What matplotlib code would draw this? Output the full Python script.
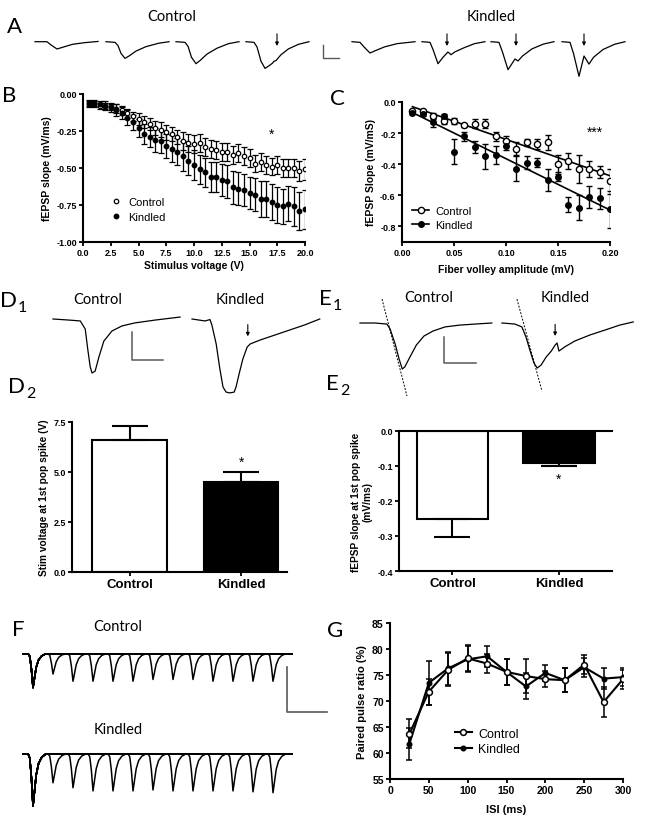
import numpy as np
import matplotlib
matplotlib.use('Agg')
import matplotlib.pyplot as plt
from matplotlib.lines import Line2D

plt.rcParams.update({'font.family': 'Liberation Sans', 'axes.unicode_minus': False,
                     'font.weight': 'bold'})

### data
# A: example traces (ms, mV), control and kindled, arrows mark pop spikes
a_ctrl_t = [[0, 2.4, 3.2, 4.4, 5.6, 7.5, 10, 12.6],
            [0, 1.8, 2.4, 3.0, 3.8, 4.6, 6.0, 8.0, 10.5, 12.6],
            [0, 1.8, 2.4, 3.1, 4.0, 4.8, 6.2, 8.2, 10.5, 12.6],
            [0, 1.6, 2.2, 3.0, 3.8, 4.6, 5.3, 5.6, 6.0, 7.0, 8.5, 10.5, 12.6]]
a_ctrl_v = [[0, 0, -0.25, -0.56, -0.42, -0.2, -0.07, 0.02],
            [0, -0.05, -0.3, -0.9, -1.28, -1.1, -0.72, -0.38, -0.12, 0],
            [0, -0.05, -0.35, -1.2, -1.69, -1.45, -0.95, -0.5, -0.15, 0],
            [0, -0.05, -0.4, -1.5, -2.05, -1.85, -1.65, -1.5, -1.45, -1.0, -0.55, -0.2, 0]]
a_kind_t = [[0, 1.6, 2.4, 3.6, 4.6, 6.5, 9, 12.6],
            [0, 1.6, 2.2, 3.2, 4.2, 5.2, 5.8, 6.6, 8.5, 10.5, 12.6],
            [0, 1.6, 2.3, 3.4, 4.8, 5.4, 6.3, 8.2, 10.5, 12.6],
            [0, 1.6, 2.3, 3.4, 4.4, 5.4, 6.3, 8.2, 10.5, 12.6]]
a_kind_v = [[0, -0.05, -0.4, -0.87, -0.7, -0.4, -0.15, 0],
            [0, -0.05, -0.6, -1.69, -1.2, -0.79, -1.0, -0.78, -0.45, -0.15, 0],
            [0, -0.05, -0.8, -2.15, -1.33, -1.48, -1.1, -0.55, -0.18, 0],
            [0, -0.05, -0.9, -2.66, -1.1, -1.72, -1.2, -0.6, -0.2, 0]]
a_ctrl_arrow = [None, None, None, 6.2]
a_kind_arrow = [None, 5.0, 5.0, 4.4]

# B: input/output
b_volt = np.arange(0.5, 20.01, 0.5)
b_ctrl = [-0.07, -0.07, -0.08, -0.08, -0.09, -0.10, -0.11, -0.13, -0.15, -0.17,
          -0.19, -0.20, -0.23, -0.24, -0.26, -0.27, -0.29, -0.32, -0.33, -0.34,
          -0.33, -0.36, -0.37, -0.38, -0.39, -0.39, -0.41, -0.40, -0.42, -0.43,
          -0.47, -0.46, -0.48, -0.49, -0.48, -0.50, -0.50, -0.50, -0.52, -0.51]
b_ctrl_err = [0.02, 0.02, 0.02, 0.02, 0.02, 0.03, 0.03, 0.03, 0.03, 0.04,
              0.04, 0.04, 0.05, 0.05, 0.05, 0.05, 0.05, 0.06, 0.06, 0.06,
              0.06, 0.06, 0.06, 0.06, 0.06, 0.06, 0.06, 0.06, 0.06, 0.06,
              0.06, 0.06, 0.06, 0.06, 0.06, 0.06, 0.06, 0.06, 0.07, 0.07]
b_kind = [-0.06, -0.06, -0.07, -0.08, -0.09, -0.11, -0.13, -0.16, -0.19, -0.23,
          -0.27, -0.29, -0.31, -0.32, -0.35, -0.37, -0.39, -0.42, -0.45, -0.48,
          -0.51, -0.53, -0.56, -0.56, -0.58, -0.59, -0.63, -0.64, -0.65, -0.67,
          -0.68, -0.71, -0.71, -0.73, -0.75, -0.76, -0.74, -0.76, -0.79, -0.78]
b_kind_err = [0.02, 0.02, 0.02, 0.03, 0.03, 0.04, 0.04, 0.05, 0.05, 0.06,
              0.07, 0.07, 0.08, 0.08, 0.08, 0.09, 0.09, 0.10, 0.10, 0.10,
              0.10, 0.10, 0.10, 0.10, 0.11, 0.11, 0.11, 0.11, 0.11, 0.11,
              0.11, 0.12, 0.12, 0.12, 0.12, 0.12, 0.12, 0.13, 0.13, 0.13]

# C: fEPSP slope vs fiber volley
c_fv = [0.01, 0.02, 0.03, 0.04, 0.05, 0.06, 0.07, 0.08, 0.09, 0.10,
        0.11, 0.12, 0.13, 0.14, 0.15, 0.16, 0.17, 0.18, 0.19, 0.20]
c_ctrl = [-0.06, -0.06, -0.09, -0.12, -0.12, -0.15, -0.14, -0.14, -0.22, -0.25,
          -0.30, -0.26, -0.27, -0.26, -0.40, -0.38, -0.43, -0.43, -0.45, -0.51]
c_ctrl_err = [0.01, 0.01, 0.02, 0.02, 0.02, 0.01, 0.03, 0.03, 0.03, 0.03,
              0.04, 0.02, 0.03, 0.05, 0.06, 0.05, 0.09, 0.05, 0.04, 0.08]
c_kind = [-0.07, -0.08, -0.13, -0.09, -0.32, -0.22, -0.29, -0.35, -0.34, -0.28,
          -0.43, -0.39, -0.39, -0.50, -0.48, -0.66, -0.68, -0.61, -0.62, -0.69]
c_kind_err = [0.01, 0.01, 0.03, 0.01, 0.08, 0.03, 0.04, 0.08, 0.06, 0.03,
              0.08, 0.04, 0.03, 0.07, 0.03, 0.05, 0.08, 0.07, 0.07, 0.12]

# D1 / E1 traces (ms, mV)
d1_ctrl_t = [0, 2.7, 4.4, 5.2, 5.6, 6.0, 6.3, 6.8, 7.4, 8.2, 9.5, 11.1, 13.2, 16.4, 20.5]
d1_ctrl_v = [0, -0.04, -0.07, -0.36, -1.07, -1.71, -1.93, -1.86, -1.36, -0.79, -0.43,
             -0.25, -0.14, -0.04, 0.07]
d1_kind_t = [0, 2.1, 2.9, 3.2, 3.9, 4.5, 5.0, 5.5, 6.1, 6.8, 7.1, 7.6, 8.2, 8.9, 9.4,
             11.0, 13.4, 15.8, 18.2, 20.6]
d1_kind_v = [0, -0.07, -0.02, -0.21, -0.89, -1.79, -2.43, -2.61, -2.64, -2.61, -2.43,
             -1.96, -1.43, -1.0, -0.89, -0.75, -0.57, -0.39, -0.21, 0]
d1_arrow = 9.0
e1_ctrl_t = [0, 2.3, 4.2, 4.7, 5.5, 6.1, 6.6, 7.0, 7.8, 8.8, 10.0, 11.4, 13.3, 15.6, 18.0, 20.6]
e1_ctrl_v = [0, 0, -0.04, -0.23, -0.81, -1.38, -1.77, -1.69, -1.31, -0.85, -0.5, -0.31,
             -0.15, -0.08, -0.04, 0]
e1_kind_t = [0, 2.0, 3.1, 3.75, 4.4, 5.0, 5.5, 6.1, 6.9, 7.7, 8.3, 8.6, 8.9, 9.8, 11.4,
             13.75, 16.1, 18.4, 20.5]
e1_kind_v = [0, -0.04, -0.15, -0.54, -1.08, -1.54, -1.73, -1.62, -1.31, -1.08, -0.85,
             -0.77, -1.08, -0.92, -0.69, -0.46, -0.27, -0.08, 0.04]
e1_ctrl_slope = [(3.44, 0.92), (7.34, -2.81)]
e1_kind_slope = [(2.34, 0.92), (6.25, -2.62)]
e1_arrow = 8.3

# D2 / E2 bars
groups = ['Control', 'Kindled']
d2_mean = [6.6, 4.5]
d2_err = [0.7, 0.48]
e2_mean = [-0.25, -0.09]
e2_err = [0.053, 0.01]

# F: paired pulse sweeps
f_isi = [25, 50, 75, 100, 125, 150, 175, 200, 225, 250, 275, 300]
f_ctrl_first = 0.75
f_ctrl_second = [0.45, 0.61, 0.61, 0.61, 0.61, 0.57, 0.57, 0.57, 0.61, 0.61, 0.61, 0.61]
f_kind_first = 1.16
f_kind_second = [0.64, 0.75, 0.82, 0.82, 0.82, 0.80, 0.82, 0.82, 0.82, 0.82, 0.84, 0.86]
f_shape_t = [-6, -4, -2, 0, 2, 4, 7, 11, 16]
f_shape_v = [0, -0.08, -0.45, -1.0, -0.7, -0.4, -0.18, -0.06, 0]

# G: paired pulse ratio
g_isi = [25, 50, 75, 100, 125, 150, 175, 200, 225, 250, 275, 300]
g_ctrl = [63.7, 71.8, 76.0, 78.2, 77.2, 75.6, 74.8, 74.2, 74.0, 77.0, 69.8, 74.2]
g_ctrl_err = [2.8, 2.5, 3.2, 2.5, 1.8, 2.5, 3.3, 1.5, 2.3, 1.8, 2.8, 1.8]
g_kind = [61.8, 73.5, 76.3, 78.0, 78.6, 75.6, 72.8, 75.4, 74.0, 76.5, 74.3, 74.6]
g_kind_err = [3.1, 4.2, 3.2, 2.5, 2.0, 2.5, 2.5, 1.5, 2.3, 1.8, 2.0, 1.8]

########
W, H = 645, 829
fig = plt.figure(figsize=(6.45, 8.29), dpi=100)
CAL = 'Lato'


def rect(l, t, r, b):
    return [l / W, 1 - b / H, (r - l) / W, (b - t) / H]


def prism(ax):
    for s in ['top', 'right']:
        ax.spines[s].set_visible(False)
    for s in ['left', 'bottom']:
        ax.spines[s].set_linewidth(1.5)
    ax.tick_params(direction='out', length=3, width=1.3, labelsize=6.5, pad=1.5)
    for lab in ax.get_xticklabels() + ax.get_yticklabels():
        lab.set_fontweight('bold')


def letter(x, y, s, sub=None, dx=15):
    fig.text(x / W, 1 - y / H, s, fontsize=16, family=CAL, fontweight='normal', va='baseline')
    if sub:
        fig.text((x + dx) / W, 1 - (y + 5) / H, sub, fontsize=11.5, family=CAL,
                 fontweight='normal', va='baseline')


def label(x, y, s):
    fig.text(x / W, 1 - y / H, s, fontsize=10.5, family=CAL, fontweight='normal',
             ha='center', va='center')


def trace_ax(l, t, r, b, xlim, ylim):
    ax = fig.add_axes(rect(l, t, r, b))
    ax.set_xlim(*xlim)
    ax.set_ylim(*ylim)
    ax.axis('off')
    return ax


def arrow(ax, x, y0, y1):
    ax.annotate('', xy=(x, y1), xytext=(x, y0),
                arrowprops=dict(arrowstyle='-|>', color='k', lw=0.8, mutation_scale=5,
                                shrinkA=0, shrinkB=0))


def scalebar(ax, x, y, dx, dy, lw=1.0):
    ax.plot([x, x, x + dx], [y, y - dy, y - dy], color='0.35', lw=lw)


# ---- A
axA = trace_ax(0, 28, 645, 85, (0, 129), (-3.25, 1.13))
for off, t, v, arw in zip([7, 21.2, 35.2, 49.2], a_ctrl_t, a_ctrl_v, a_ctrl_arrow):
    axA.plot(np.array(t) + off, v, color='k', lw=0.9)
    if arw is not None:
        arrow(axA, off + arw, 0.6, -0.33)
for off, t, v, arw in zip([70.4, 84.4, 98.2, 112.4], a_kind_t, a_kind_v, a_kind_arrow):
    axA.plot(np.array(t) + off, v, color='k', lw=0.9)
    if arw is not None:
        arrow(axA, off + arw, 0.6, -0.33)
scalebar(axA, 64.6, -0.25, 3.2, 1.0)
letter(7, 33, 'A')
label(172, 17, 'Control')
label(491, 17, 'Kindled')

# ---- B
axB = fig.add_axes(rect(83, 95, 305, 243))
axB.errorbar(b_volt, b_ctrl, yerr=b_ctrl_err, fmt='none', ecolor='k', elinewidth=0.9,
             capsize=2, capthick=0.9)
axB.errorbar(b_volt, b_kind, yerr=b_kind_err, fmt='none', ecolor='k', elinewidth=0.9,
             capsize=2, capthick=0.9)
axB.plot(b_volt, b_ctrl, 'o', ms=3.2, mfc='white', mec='k', mew=0.9, label='Control', zorder=5)
axB.plot(b_volt, b_kind, 'o', ms=3.2, mfc='k', mec='k', label='Kindled', zorder=5)
axB.set_xlim(0, 20)
axB.set_ylim(-1.0, 0)
axB.set_xticks(np.arange(0, 20.01, 2.5))
axB.set_xticklabels(['%.1f' % v for v in np.arange(0, 20.01, 2.5)])
axB.set_yticks([0, -0.25, -0.5, -0.75, -1.0])
axB.set_yticklabels(['0.00', '-0.25', '-0.50', '-0.75', '-1.00'])
axB.set_xlabel('Stimulus voltage (V)', fontsize=7.5, fontweight='bold', labelpad=2)
axB.set_ylabel('fEPSP slope (mV/ms)', fontsize=7.5, fontweight='bold', labelpad=3)
prism(axB)
lg = axB.legend(loc='center left', bbox_to_anchor=(0.1, 0.22), frameon=False,
                fontsize=8, handlelength=1.0, handletextpad=0.6, labelspacing=0.4,
                borderpad=0)
for tx in lg.get_texts():
    tx.set_fontweight('normal')
axB.text(17, -0.27, '*', fontsize=10, ha='center', va='center', fontweight='normal')
letter(2, 102, 'B')

# ---- C
axC = fig.add_axes(rect(402, 103, 610, 243))
for yv, ye in [(c_ctrl, c_ctrl_err), (c_kind, c_kind_err)]:
    axC.errorbar(c_fv, yv, yerr=ye, fmt='none', ecolor='k', elinewidth=1.0, capsize=2.5,
                 capthick=1.0)
    fit = np.polyfit(c_fv, yv, 1)
    xs = np.array([c_fv[0], c_fv[-1]])
    axC.plot(xs, np.polyval(fit, xs), color='k', lw=1.2)
axC.plot(c_fv, c_ctrl, 'o', ms=4.5, mfc='white', mec='k', mew=1.0, zorder=5)
axC.plot(c_fv, c_kind, 'o', ms=4.0, mfc='k', mec='k', zorder=5)
axC.set_xlim(0, 0.2)
axC.set_ylim(-0.9, 0)
axC.set_xticks([0, 0.05, 0.1, 0.15, 0.2])
axC.set_xticklabels(['0.00', '0.05', '0.10', '0.15', '0.20'])
axC.set_yticks([0, -0.2, -0.4, -0.6, -0.8])
axC.set_yticklabels(['0.0', '-0.2', '-0.4', '-0.6', '-0.8'])
axC.set_xlabel('Fiber volley amplitude (mV)', fontsize=7.5, fontweight='bold', labelpad=5)
axC.set_ylabel('fEPSP Slope (mV/mS)', fontsize=7.5, fontweight='bold', labelpad=3)
prism(axC)
hC = [Line2D([], [], color='k', lw=1.2, marker='o', ms=4.5, mfc='white', mec='k'),
      Line2D([], [], color='k', lw=1.2, marker='o', ms=4.0, mfc='k', mec='k')]
lg = axC.legend(hC, groups, loc='center left', bbox_to_anchor=(0.02, 0.17), frameon=False,
                fontsize=8, handlelength=1.6, handletextpad=0.5, labelspacing=0.35,
                borderpad=0)
for tx in lg.get_texts():
    tx.set_fontweight('normal')
axC.text(0.185, -0.19, '***', fontsize=10, ha='center', va='center', fontweight='normal')
letter(330, 105, 'C')

# ---- D1
axD1 = trace_ax(40, 305, 330, 400, (0, 290 / 6.2), (-80 / 28, 15 / 28))
axD1.plot(np.array(d1_ctrl_t) + 13 / 6.2, d1_ctrl_v, color='k', lw=0.9)
axD1.plot(np.array(d1_kind_t) + 152 / 6.2, d1_kind_v, color='k', lw=0.9)
arrow(axD1, 152 / 6.2 + d1_arrow, -0.2, -0.62)
scalebar(axD1, 92 / 6.2, -0.464, 5, 1.0, lw=1.1)
letter(0, 307, 'D', '1', dx=18)
label(98, 300, 'Control')
label(240, 300, 'Kindled')

# ---- E1
axE1 = trace_ax(340, 295, 645, 405, (0, 305 / 6.4), (-81 / 26, 29 / 26))
for off, t, v, sl in [(20 / 6.4, e1_ctrl_t, e1_ctrl_v, e1_ctrl_slope),
                      (162 / 6.4, e1_kind_t, e1_kind_v, e1_kind_slope)]:
    axE1.plot(np.array(t) + off, v, color='k', lw=0.9)
    axE1.plot([sl[0][0] + off, sl[1][0] + off], [sl[0][1], sl[1][1]], color='k', lw=0.7,
              ls=(0, (2, 1.5)))
arrow(axE1, 162 / 6.4 + e1_arrow, -0.05, -0.5)
scalebar(axE1, 104 / 6.4, -0.54, 5, 1.0, lw=1.1)
letter(319, 305, 'E', '1', dx=14)
label(429, 298, 'Control')
label(565, 298, 'Kindled')

# ---- D2
axD2 = fig.add_axes(rect(72, 423, 287, 573))
axD2.bar([0, 1], d2_mean, width=0.67, color=['white', 'black'], edgecolor='k', lw=1.5)
axD2.errorbar([0, 1], d2_mean, yerr=[[0, 0], d2_err], fmt='none', ecolor='k', elinewidth=1.5,
              capsize=13, capthick=1.5)
axD2.set_xlim(-0.516, 1.412)
axD2.set_ylim(0, 7.5)
axD2.set_yticks([0, 2.5, 5.0, 7.5])
axD2.set_yticklabels(['0.0', '2.5', '5.0', '7.5'])
axD2.set_xticks([0, 1])
axD2.set_xticklabels(groups)
axD2.set_ylabel('Stim voltage at 1st pop spike (V)', fontsize=7.3, fontweight='bold',
                labelpad=3)
prism(axD2)
for lab in axD2.get_xticklabels():
    lab.set_fontsize(9.5)
axD2.text(1, 5.5, '*', fontsize=10, ha='center', va='center', fontweight='normal')
letter(8, 393, 'D', '2', dx=18)

# ---- E2
axE2 = fig.add_axes(rect(399, 432, 612, 572))
axE2.bar([0, 1], e2_mean, width=0.67, color=['white', 'black'], edgecolor='k', lw=1.5)
axE2.errorbar([0, 1], e2_mean, yerr=[e2_err, [0, 0]], fmt='none', ecolor='k', elinewidth=1.5,
              capsize=13, capthick=1.5)
axE2.set_xlim(-0.502, 1.498)
axE2.set_ylim(-0.4, 0)
axE2.set_yticks([0, -0.1, -0.2, -0.3, -0.4])
axE2.set_yticklabels(['0.0', '-0.1', '-0.2', '-0.3', '-0.4'])
axE2.set_xticks([0, 1])
axE2.set_xticklabels(groups)
axE2.set_ylabel('fEPSP slope at 1st pop spike\n(mV/ms)', fontsize=7.3, fontweight='bold',
                labelpad=3, multialignment='center')
prism(axE2)
axE2.spines['top'].set_visible(True)
axE2.spines['top'].set_linewidth(1.5)
for lab in axE2.get_xticklabels():
    lab.set_fontsize(9.5)
axE2.text(1, -0.137, '*', fontsize=10, ha='center', va='center', fontweight='normal')
letter(326, 390, 'E', '2', dx=14)

# ---- F
axF = trace_ax(15, 640, 335, 820, (-22.5, 377.5), (-167 / 45, 13 / 45))
f_off = [-0.04, -102 / 45]
for base, first, seconds in [(f_off[0], f_ctrl_first, f_ctrl_second),
                             (f_off[1], f_kind_first, f_kind_second)]:
    for isi, sec in zip(f_isi, seconds):
        t = np.concatenate([[-12], f_shape_t, np.array(f_shape_t) + isi, [324]])
        v = np.concatenate([[0], first * np.array(f_shape_v), sec * np.array(f_shape_v), [0]])
        axF.plot(t, v + base, color='k', lw=1.1)
scalebar(axF, 317.5, -0.333, 50, 1.0, lw=1.2)
letter(12, 636, 'F')
label(118, 627, 'Control')
label(118, 730, 'Kindled')

# ---- G
axG = fig.add_axes(rect(390, 624, 623, 780))
axG.errorbar(g_isi, g_kind, yerr=g_kind_err, fmt='none', ecolor='k', elinewidth=1.1,
             capsize=2.5, capthick=1.1)
axG.errorbar(g_isi, g_ctrl, yerr=g_ctrl_err, fmt='none', ecolor='k', elinewidth=1.1,
             capsize=2.5, capthick=1.1)
axG.plot(g_isi, g_kind, '-o', color='k', lw=1.5, ms=3.3, label='Kindled', zorder=4)
axG.plot(g_isi, g_ctrl, '-o', color='k', lw=1.5, ms=4.2, mfc='white', mew=1.1,
         label='Control', zorder=5)
axG.set_xlim(0, 300)
axG.set_ylim(55, 85)
axG.set_xticks(range(0, 301, 50))
axG.set_yticks(range(55, 86, 5))
axG.set_xlabel('ISI (ms)', fontsize=8, fontweight='bold', labelpad=6)
axG.set_ylabel('Paired pulse ratio (%)', fontsize=8, fontweight='bold', labelpad=4)
prism(axG)
for lab in axG.get_xticklabels() + axG.get_yticklabels():
    lab.set_fontsize(7.5)
hG, lG = axG.get_legend_handles_labels()
lg = axG.legend(hG[::-1], lG[::-1], loc='center left', bbox_to_anchor=(0.25, 0.24),
                frameon=False, fontsize=9, handlelength=1.4, handletextpad=0.5,
                labelspacing=0.3, borderpad=0)
for tx in lg.get_texts():
    tx.set_fontweight('normal')
letter(327, 637, 'G')

fig.savefig('out.png', dpi=100)
